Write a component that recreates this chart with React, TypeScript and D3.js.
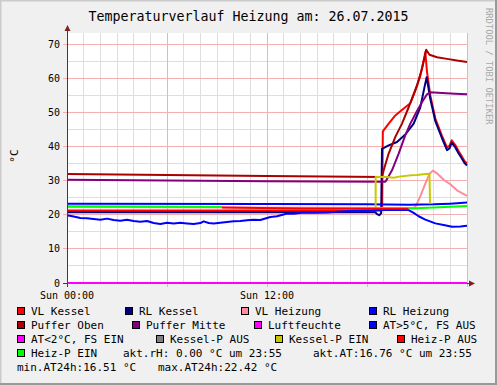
import React, { useEffect } from 'react';
import * as d3 from 'd3';

type Pt = [number, number];

// [Stunde, Wert]
const vlKessel: Pt[] = [
  [0, 21.3], [9, 21.3], [18.8, 21.3], [18.9, 21.5], [18.95, 44.5], [19.3, 46.8], [19.7, 49.2],
  [20.0, 50.4], [20.3, 51.6], [20.6, 52.8], [20.9, 56.5], [21.2, 60.9], [21.4, 65.3], [21.5, 67.8],
  [21.6, 62.0], [21.8, 55.0], [22.1, 48.3], [22.5, 43.2], [22.8, 39.8], [22.95, 40.3], [23.08, 41.9],
  [23.3, 40.5], [23.5, 38.7], [23.7, 37.1], [23.85, 35.8], [24, 35.1],
];
const rlKessel: Pt[] = [
  [0, 20.8], [9, 20.8], [18.5, 20.8], [18.6, 20.2], [18.75, 19.9], [18.85, 20.5], [18.9, 39.4],
  [19.3, 40.4], [19.8, 41.4], [20.3, 43.6], [20.8, 46.8], [21.2, 51.6], [21.45, 57.5], [21.58, 60.4],
  [21.8, 54.0], [22.1, 47.5], [22.5, 42.5], [22.8, 39.0], [22.95, 39.5], [23.08, 41.2], [23.3, 39.8],
  [23.5, 38.0], [23.7, 36.5], [23.85, 35.2], [24, 34.5],
];
const vlHeizung: Pt[] = [
  [0, 22.3], [20.8, 22.0], [20.95, 22.8], [21.2, 25.5], [21.5, 29.2], [21.75, 32.0], [21.95, 33.0],
  [22.2, 32.2], [22.6, 30.3], [23.0, 29.0], [23.4, 27.2], [23.7, 26.4], [24, 25.6],
];
const rlHeizung: Pt[] = [
  [0, 23.3], [12, 23.2], [18, 23.1], [20.5, 23.0], [22, 23.1], [23, 23.3], [24, 23.6],
];
const pufferOben: Pt[] = [
  [0, 32.0], [6, 31.7], [12, 31.4], [18.9, 31.1], [19.0, 33.1], [19.3, 38.0], [19.7, 42.9],
  [20.1, 46.8], [20.5, 51.6], [21.0, 58.0], [21.3, 62.9], [21.48, 66.8], [21.55, 68.5], [21.75, 67.0],
  [22.2, 66.3], [22.8, 65.8], [23.4, 65.3], [24, 64.9],
];
const pufferMitte: Pt[] = [
  [0, 30.3], [6, 30.1], [12, 29.9], [19.1, 29.7], [19.2, 30.5], [19.5, 33.1], [19.9, 38.0],
  [20.3, 43.4], [20.6, 46.8], [21.0, 50.5], [21.3, 53.1], [21.6, 55.4], [21.8, 56.0], [22.5, 55.8],
  [23.3, 55.6], [24, 55.4],
];
const luftfeuchte: Pt[] = [[0, 0], [24, 0]];
const aussenTemp: Pt[] = [
  [0, 19.9], [0.4, 19.5], [0.8, 19.1], [1.2, 19.0], [1.6, 18.8], [2, 18.6], [2.4, 18.9], [2.8, 18.5],
  [3.2, 18.3], [3.6, 18.6], [4, 18.2], [4.4, 18.0], [4.8, 18.2], [5.2, 17.6], [5.6, 17.3], [6, 17.7],
  [6.4, 17.5], [6.8, 17.7], [7.2, 17.5], [7.6, 17.3], [8.0, 17.6], [8.2, 18.1], [8.5, 17.6], [8.8, 17.5],
  [9.2, 17.7], [9.6, 17.9], [10, 18.1], [10.4, 18.2], [10.8, 18.4], [11.2, 18.6], [11.6, 18.5], [12, 19.1],
  [12.2, 19.4], [12.6, 19.6], [13.0, 20.1], [13.2, 20.4], [13.6, 20.3], [14.2, 20.7], [14.8, 20.6],
  [15.6, 20.7], [16.4, 21.0], [17.2, 21.2], [18.0, 21.3], [19, 21.4], [20.5, 21.4], [20.8, 20.6],
  [21.1, 19.6], [21.5, 18.6], [22.1, 17.5], [22.6, 17.0], [23.1, 16.5], [23.6, 16.6], [24, 16.8],
];
const kesselPEin: Pt[] = [
  [18.52, 22.2], [18.52, 31.1], [19.2, 31.1], [19.6, 30.9], [20.0, 31.3], [20.6, 31.6], [21.0, 31.7],
  [21.5, 32.0], [21.75, 32.1], [21.78, 23.3],
];
const heizPAus: Pt[] = [[9.3, 22.2], [14, 21.9], [20.5, 21.8]];
const heizPEin: Pt[] = [
  [0, 22.5], [9.3, 22.3], [9.3, NaN], [20.5, 21.9], [22, 22.2], [23, 22.4], [24, 22.6],
];

const legendNames = [
  'VL Kessel', 'RL Kessel', 'VL Heizung', 'RL Heizung',
  'Puffer Oben', 'Puffer Mitte', 'Luftfeuchte', 'AT>5°C, FS AUS',
  'AT<2°C, FS EIN', 'Kessel-P AUS', 'Kessel-P EIN', 'Heiz-P AUS',
  'Heiz-P EIN',
];
const legendColors = [
  '#ff0000', '#000080', '#ff8c9c', '#0000ff',
  '#aa0000', '#800080', '#ff00ff', '#0000ff',
  '#ff00ff', '#808080', '#c8c800', '#ff0000',
  '#00ff00',
];
const infoTexts = ['akt.rH: 0.00 °C um 23:55', 'akt.AT:16.76 °C um 23:55'];
const minMaxTexts = ['min.AT24h:16.51 °C', 'max.AT24h:22.42 °C'];

const yTicks = [0, 10, 20, 30, 40, 50, 60, 70];
const xLabelHours = [0, 12];
const xLabels = ['Sun 00:00', 'Sun 12:00'];

// Zeichenreihenfolge wie bei rrdtool (Legende)
const seriesList: { data: Pt[]; color: string }[] = [
  { data: vlKessel, color: legendColors[0] },
  { data: rlKessel, color: legendColors[1] },
  { data: vlHeizung, color: legendColors[2] },
  { data: rlHeizung, color: legendColors[3] },
  { data: pufferOben, color: legendColors[4] },
  { data: pufferMitte, color: legendColors[5] },
  { data: luftfeuchte, color: legendColors[6] },
  { data: aussenTemp, color: legendColors[7] },
  { data: kesselPEin, color: legendColors[10] },
  { data: heizPAus, color: legendColors[11] },
  { data: heizPEin, color: legendColors[12] },
];

const W = 497;
const H = 385;
const left = 67;
const right = 467;
const top = 33;
const bottom = 283;
const mono = '"DejaVu Sans Mono", monospace';

// Legendenlayout: Kästchen-x je Zeile
const legendRows = [
  { y: 315, items: [0, 1, 2, 3], xs: [17, 125, 241, 369] },
  { y: 329, items: [4, 5, 6, 7], xs: [17, 132, 254, 369] },
  { y: 343, items: [8, 9, 10, 11], xs: [17, 156, 275, 397] },
  { y: 357, items: [12], xs: [17] },
];

const App = () => {
  useEffect(() => {
    document.body.style.margin = '0';
  }, []);

  const x = d3.scaleLinear().domain([0, 24]).range([left, right]);
  const y = d3.scaleLinear().domain([0, 73.4]).range([bottom, top]);
  const line = d3
    .line<Pt>()
    .defined((d) => !isNaN(d[1]))
    .x((d) => x(d[0]))
    .y((d) => y(d[1]));

  const px = (v: number) => Math.floor(v) + 0.5;
  const hours = d3.range(0, 25);
  const minorY = d3.range(5, 75, 10);

  return (
    <svg width={W} height={H} style={{ display: 'block' }}>
      <rect x={0} y={0} width={W} height={H} fill="#f0f0f0" />
      <path d={`M0.5,${H} V0.5 H${W}`} stroke="#cbcbcb" strokeWidth={2} fill="none" />
      <path d={`M0,${H - 1} H${W - 1} V0`} stroke="#999999" strokeWidth={2} fill="none" />

      <text x={W / 2} y={21} textAnchor="middle" fontFamily={mono} fontSize={13.3}>
        Temperaturverlauf Heizung am: 26.07.2015
      </text>
      <text
        transform={`translate(486,8) rotate(90)`}
        fontFamily={mono}
        fontSize={8.8}
        fill="#a8a8a8"
      >
        RRDTOOL / TOBI OETIKER
      </text>

      <rect x={left} y={top} width={right - left} height={bottom - top} fill="#ffffff" />

      <g shapeRendering="crispEdges">
        {hours.filter((h) => h % 6 !== 0).map((h) => (
          <line key={'v' + h} x1={px(x(h))} x2={px(x(h))} y1={top} y2={bottom} stroke="#dedede" />
        ))}
        {minorY.map((v) => (
          <line key={'h' + v} x1={left} x2={right} y1={px(y(v))} y2={px(y(v))} stroke="#dedede" />
        ))}
        {hours.filter((h) => h % 6 === 0 && h > 0).map((h) => (
          <line key={'V' + h} x1={px(x(h))} x2={px(x(h))} y1={top} y2={bottom + 4} stroke="#f4b0b0" />
        ))}
        {yTicks.filter((v) => v > 0).map((v) => (
          <line key={'H' + v} x1={left - 4} x2={right} y1={px(y(v))} y2={px(y(v))} stroke="#f4b0b0" />
        ))}
      </g>

      {yTicks.map((v) => (
        <text
          key={'yl' + v}
          x={60}
          y={y(v) + 3.5}
          textAnchor="end"
          fontFamily={mono}
          fontSize={10}
        >
          {v}
        </text>
      ))}
      {xLabelHours.map((h, i) => (
        <text key={'xl' + h} x={x(h)} y={298.5} textAnchor="middle" fontFamily={mono} fontSize={10}>
          {xLabels[i]}
        </text>
      ))}
      <text
        transform={`translate(18,156) rotate(-90)`}
        textAnchor="middle"
        fontFamily={mono}
        fontSize={11}
      >
        °C
      </text>

      <g fill="none" strokeWidth={2} strokeLinejoin="round" strokeLinecap="butt">
        {seriesList.map((s, i) => (
          <path key={'s' + i} d={line(s.data) || ''} stroke={s.color} />
        ))}
      </g>

      <g shapeRendering="crispEdges" stroke="#802020">
        <line x1={px(left)} x2={px(left)} y1={bottom + 4} y2={29} />
        <line x1={left - 4} x2={471} y1={px(bottom)} y2={px(bottom)} />
      </g>
      <path d={`M${px(left)},25 L${px(left) - 3},31 L${px(left) + 3},31 Z`} fill="#802020" />
      <path d={`M475,${px(bottom)} L469,${px(bottom) - 3} L469,${px(bottom) + 3} Z`} fill="#802020" />
      <line x1={px(left)} x2={right} y1={y(0)} y2={y(0)} stroke={legendColors[6]} strokeWidth={2} />

      {legendRows.map((row) =>
        row.items.map((idx, j) => (
          <g key={'lg' + idx}>
            <rect
              x={row.xs[j] + 0.5}
              y={row.y - 7.5}
              width={7}
              height={7}
              fill={legendColors[idx]}
              stroke="#000"
              strokeWidth={1}
            />
            <text x={row.xs[j] + 14} y={row.y} fontFamily={mono} fontSize={11}>
              {legendNames[idx]}
            </text>
          </g>
        ))
      )}
      <text x={123} y={357} fontFamily={mono} fontSize={11}>{infoTexts[0]}</text>
      <text x={313} y={357} fontFamily={mono} fontSize={11}>{infoTexts[1]}</text>
      <text x={17} y={371} fontFamily={mono} fontSize={11}>{minMaxTexts[0]}</text>
      <text x={158} y={371} fontFamily={mono} fontSize={11}>{minMaxTexts[1]}</text>
    </svg>
  );
};

export default App;
